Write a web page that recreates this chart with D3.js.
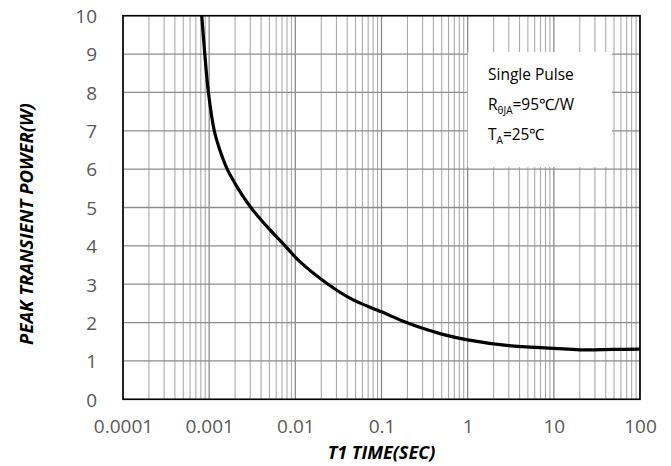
<!DOCTYPE html>
<html>
<head>
<meta charset="utf-8">
<script src="https://cdn.jsdelivr.net/npm/d3@7"></script>
<style>
  html, body { margin: 0; padding: 0; background: #fff; }
  svg { display: block; }
</style>
</head>
<body>
<svg id="chart" width="671" height="466"></svg>
<script>
// Single-pulse peak transient power vs. pulse width
const pulseTime = [0.00082, 0.00089, 0.00098, 0.001146, 0.00133, 0.00162, 0.00216, 0.00305, 0.0047,
                   0.0076, 0.0108, 0.024, 0.047, 0.1, 0.195, 0.3, 0.5, 1, 3, 10, 20, 50, 100];
const peakPower = [10, 9, 8, 7, 6.5, 6, 5.5, 5, 4.5,
                   4, 3.63, 3.0, 2.59, 2.28, 2.0, 1.85, 1.7, 1.55, 1.40, 1.33, 1.29, 1.30, 1.31];

const xTickValues = [0.0001, 0.001, 0.01, 0.1, 1, 10, 100];
const xTickLabels = ["0.0001", "0.001", "0.01", "0.1", "1", "10", "100"];
const yTickValues = [0, 1, 2, 3, 4, 5, 6, 7, 8, 9, 10];

const noteLines = ["Single Pulse", "R|θJA|=95℃/W", "T|A|=25℃"];

const svg = d3.select("#chart");
const plot = { left: 123, right: 640, top: 15.7, bottom: 399.3 };

const x = d3.scaleLog().domain([0.0001, 100]).range([plot.left, plot.right]);
const y = d3.scaleLinear().domain([0, 10]).range([plot.bottom, plot.top]);

// Minor vertical grid (2..9 per decade)
const minorTicks = [];
for (let e = -4; e < 2; e++) {
  for (let m = 2; m <= 9; m++) minorTicks.push(m * Math.pow(10, e));
}
svg.append("g").selectAll("line").data(minorTicks).join("line")
  .attr("x1", d => x(d)).attr("x2", d => x(d))
  .attr("y1", plot.top).attr("y2", plot.bottom)
  .attr("stroke", "#ababab").attr("stroke-width", 1.1);

// Major vertical grid (decades)
svg.append("g").selectAll("line").data(xTickValues).join("line")
  .attr("x1", d => x(d)).attr("x2", d => x(d))
  .attr("y1", plot.top).attr("y2", plot.bottom)
  .attr("stroke", "#8c8c8c").attr("stroke-width", 1.3);

// Horizontal grid
svg.append("g").selectAll("line").data(yTickValues).join("line")
  .attr("x1", plot.left).attr("x2", plot.right)
  .attr("y1", d => y(d)).attr("y2", d => y(d))
  .attr("stroke", "#8c8c8c").attr("stroke-width", 1.3);

// Note box (white background over grid)
svg.append("rect")
  .attr("x", x(1)).attr("y", 52)
  .attr("width", 612 - x(1)).attr("height", 115)
  .attr("fill", "#fff");

const note = svg.append("g")
  .attr("font-family", "'Open Sans', sans-serif")
  .attr("font-size", 15.5).attr("fill", "#000");
noteLines.forEach((line, i) => {
  const parts = line.split("|");
  const t = note.append("text").attr("x", 488).attr("y", 80 + i * 30);
  t.append("tspan").text(parts[0]);
  if (parts.length > 1) {
    t.append("tspan").attr("font-size", 10).attr("dy", 4).text(parts[1]);
    t.append("tspan").attr("dy", -4).text(parts[2]);
  }
});

// Frame
svg.append("rect")
  .attr("x", plot.left).attr("y", plot.top)
  .attr("width", plot.right - plot.left).attr("height", plot.bottom - plot.top)
  .attr("fill", "none").attr("stroke", "#000").attr("stroke-width", 1.6);

// Curve
const line = d3.line()
  .x((d, i) => x(pulseTime[i]))
  .y(d => y(d))
  .curve(d3.curveCatmullRom.alpha(0.5));
svg.append("path")
  .datum(peakPower)
  .attr("d", line)
  .attr("fill", "none").attr("stroke", "#000").attr("stroke-width", 3.2)
  .attr("stroke-linejoin", "round");

// Tick labels
const xAxis = d3.axisBottom(x).tickValues(xTickValues)
  .tickFormat((d, i) => xTickLabels[i]).tickSize(0).tickPadding(0);
const gx = svg.append("g").attr("transform", `translate(0,${plot.bottom})`).call(xAxis);
gx.select(".domain").remove();
gx.selectAll("text")
  .attr("font-family", "'Open Sans', sans-serif").attr("font-size", 19)
  .attr("fill", "#595959").attr("dy", null).attr("y", 33.8);

const yAxis = d3.axisLeft(y).tickValues(yTickValues).tickSize(0).tickPadding(0);
const gy = svg.append("g").attr("transform", `translate(97,0)`).call(yAxis);
gy.select(".domain").remove();
gy.selectAll("text")
  .attr("font-family", "'Open Sans', sans-serif").attr("font-size", 19)
  .attr("fill", "#595959").attr("dy", "0.36em").attr("x", 0);

// Axis titles
svg.append("text")
  .attr("x", 381.5).attr("y", 458.5)
  .attr("text-anchor", "middle")
  .attr("font-family", "'Open Sans', sans-serif").attr("font-size", 18)
  .attr("font-weight", "bold").attr("font-style", "italic").attr("fill", "#000")
  .text("T1 TIME(SEC)");

svg.append("text")
  .attr("transform", "translate(33,224) rotate(-90)")
  .attr("text-anchor", "middle")
  .attr("font-family", "'Open Sans', sans-serif").attr("font-size", 18.5)
  .attr("font-weight", "bold").attr("font-style", "italic").attr("fill", "#000")
  .text("PEAK TRANSIENT POWER(W)");
</script>
</body>
</html>
